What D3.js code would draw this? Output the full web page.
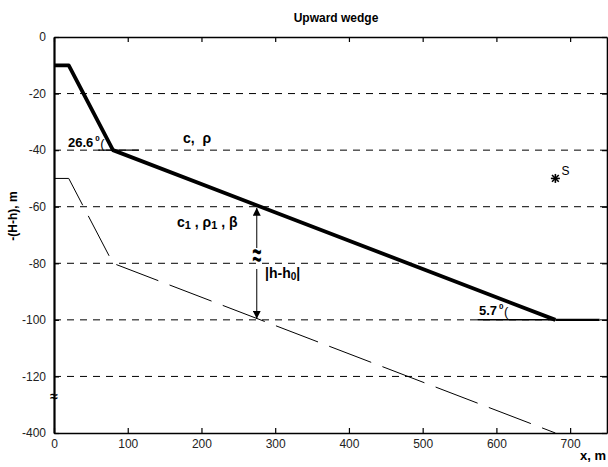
<!DOCTYPE html>
<html>
<head>
<meta charset="utf-8">
<script src="https://cdn.jsdelivr.net/npm/d3@7"></script>
<style>
body{margin:0;background:#fff;}
svg{font-family:"Liberation Sans",Arial,sans-serif;}
text{white-space:pre;}
</style>
</head>
<body>
<svg id="c" width="608" height="467"></svg>
<script>
// ---- data ----
const xTicks = [0,100,200,300,400,500,600,700];
const yTicks = [0,-20,-40,-60,-80,-100,-120,-140];
const yTickLabels = ["0","-20","-40","-60","-80","-100","-120","-400"];
const gridY = [-20,-40,-60,-80,-100,-120];
const wedgeX = [0,20,80,680];
const wedgeY = [-10,-10,-40,-100];
const bottomX = [680,740];
const bottomY = [-100,-100];
const lowerX = [0,20,80,680];
const lowerY = [-50,-50,-80,-140];
const ref1X = [60,115], ref1Y = [-40,-40];
const ref2X = [574,680], ref2Y = [-100,-100];
const arrowX = 275, arrowTop = -60, arrowBot = -100;
const sourceX = 680, sourceY = -50;

const svg = d3.select("#c");
const L=54, R=607, T=37, B=433;
const x = d3.scaleLinear().domain([0,750]).range([L,R]);
const y = d3.scaleLinear().domain([0,-140]).range([T,B]);

// grid
svg.append("g").selectAll("line").data(gridY).join("line")
  .attr("x1",L).attr("x2",R).attr("y1",d=>y(d)).attr("y2",d=>y(d))
  .attr("stroke","#000").attr("stroke-width",1).attr("stroke-dasharray","7,6");

const line = d3.line().x(d=>x(d[0])).y(d=>y(d[1]));
const zip=(a,b)=>a.map((v,i)=>[v,b[i]]);

// lower dashed line
svg.append("path").attr("d",line(zip(lowerX,lowerY))).attr("fill","none")
  .attr("stroke","#000").attr("stroke-width",1).attr("stroke-dasharray","45,12");
// reference lines
svg.append("path").attr("d",line(zip(ref1X,ref1Y))).attr("fill","none").attr("stroke","#000").attr("stroke-width",1.2);
svg.append("path").attr("d",line(zip(ref2X,ref2Y))).attr("fill","none").attr("stroke","#000").attr("stroke-width",1.5);
// bottom segment
svg.append("path").attr("d",line(zip(bottomX,bottomY))).attr("fill","none").attr("stroke","#000").attr("stroke-width",2.2);
// wedge
svg.append("path").attr("d",line(zip(wedgeX,wedgeY))).attr("fill","none")
  .attr("stroke","#000").attr("stroke-width",3.8).attr("stroke-linejoin","round");

// axes
const fmt = (d)=>yTickLabels[yTicks.indexOf(d)];
const gx = svg.append("g").attr("transform",`translate(0,${B})`)
  .call(d3.axisBottom(x).tickValues(xTicks).tickSize(-5).tickPadding(6).tickSizeOuter(0));
const gxt = svg.append("g").attr("transform",`translate(0,${T})`)
  .call(d3.axisTop(x).tickValues(xTicks).tickSize(-5).tickFormat("").tickSizeOuter(0));
const gy = svg.append("g").attr("transform",`translate(${L},0)`)
  .call(d3.axisLeft(y).tickValues(yTicks).tickFormat(fmt).tickSize(-5).tickPadding(8).tickSizeOuter(0));
const gyr = svg.append("g").attr("transform",`translate(${R},0)`)
  .call(d3.axisRight(y).tickValues(yTicks).tickFormat("").tickSize(-5).tickSizeOuter(0));
[gx,gxt,gy,gyr].forEach(g=>{
  g.select(".domain").attr("stroke","#000").attr("stroke-width",1.6);
  g.selectAll(".tick line").attr("stroke","#000").attr("stroke-width",1.2);
  g.selectAll(".tick text").attr("font-size",12).attr("fill","#222")
   .attr("font-family","Liberation Sans, Arial, sans-serif");
});
gy.select(".domain").attr("stroke-width",2.2);

// axis break mark on y axis
svg.append("text").attr("x",L).attr("y",y(-127)+5).attr("text-anchor","middle")
  .attr("font-size",14).attr("font-weight","bold").text("≈");

// title and labels
svg.append("text").attr("x",336).attr("y",22).attr("text-anchor","middle")
  .attr("font-size",12).attr("font-weight","bold").text("Upward wedge");
svg.append("text").attr("transform","translate(17,216) rotate(-90)").attr("text-anchor","middle")
  .attr("font-size",12).attr("font-weight","bold").text("-(H-h), m");
svg.append("text").attr("x",606).attr("y",460).attr("text-anchor","end")
  .attr("font-size",13).attr("font-weight","bold").text("x, m");

// angle annotations
function angleLabel(px,py,val){
  const g=svg.append("g");
  const t=g.append("text").attr("x",px).attr("y",py).attr("font-size",13).attr("font-weight","bold").text(val);
  const w=t.node().getComputedTextLength();
  g.append("text").attr("x",px+w+2).attr("y",py-6).attr("font-size",8).attr("font-weight","bold").text("0");
  g.append("text").attr("x",px+w+7).attr("y",py+1).attr("font-size",13).text("(");
}
angleLabel(68,147,"26.6");
angleLabel(479,315,"5.7");

// medium labels
svg.append("text").attr("x",183).attr("y",143).attr("font-size",14).attr("font-weight","bold").text("c,  ρ");
const t2 = svg.append("text").attr("x",177).attr("y",227).attr("font-size",14).attr("font-weight","bold");
t2.append("tspan").text("c");
t2.append("tspan").attr("font-size",11).attr("dy",2).text("1");
t2.append("tspan").attr("dy",-2).text(" , ρ");
t2.append("tspan").attr("font-size",11).attr("dy",2).text("1");
t2.append("tspan").attr("dy",-2).text(" , β");

// double arrow with break
const ax = x(arrowX);
const defs = svg.append("defs");
defs.append("marker").attr("id","ah").attr("viewBox","0 0 10 10").attr("refX",10).attr("refY",5)
  .attr("markerWidth",8).attr("markerHeight",8).attr("markerUnits","userSpaceOnUse").attr("orient","auto")
  .append("path").attr("d","M0,0L10,5L0,10Z").attr("fill","#000");
svg.append("line").attr("x1",ax).attr("x2",ax).attr("y1",248).attr("y2",y(arrowTop)+1)
  .attr("stroke","#000").attr("stroke-width",1).attr("marker-end","url(#ah)");
svg.append("line").attr("x1",ax).attr("x2",ax).attr("y1",269).attr("y2",y(arrowBot)-1)
  .attr("stroke","#000").attr("stroke-width",1).attr("marker-end","url(#ah)");
svg.append("text").attr("transform",`translate(${ax},${259}) scale(1,2)`).attr("y",3.5)
  .attr("text-anchor","middle").attr("font-size",16).attr("font-weight","bold").text("≈");
const t3 = svg.append("text").attr("x",265).attr("y",278).attr("font-size",14).attr("font-weight","bold");
t3.append("tspan").text("|h-h");
t3.append("tspan").attr("font-size",10).attr("dy",2).text("0");
t3.append("tspan").attr("dy",-2).text("|");

// source marker
const sx=x(sourceX), sy=y(sourceY), r=4.5;
const star = svg.append("g").attr("stroke","#000").attr("stroke-width",1.6);
star.append("line").attr("x1",sx-r).attr("x2",sx+r).attr("y1",sy).attr("y2",sy);
star.append("line").attr("x1",sx).attr("x2",sx).attr("y1",sy-r).attr("y2",sy+r);
const q=r*0.75;
star.append("line").attr("x1",sx-q).attr("x2",sx+q).attr("y1",sy-q).attr("y2",sy+q);
star.append("line").attr("x1",sx-q).attr("x2",sx+q).attr("y1",sy+q).attr("y2",sy-q);
svg.append("text").attr("x",sx+6).attr("y",sy-3).attr("font-size",12).text("S");
</script>
</body>
</html>
